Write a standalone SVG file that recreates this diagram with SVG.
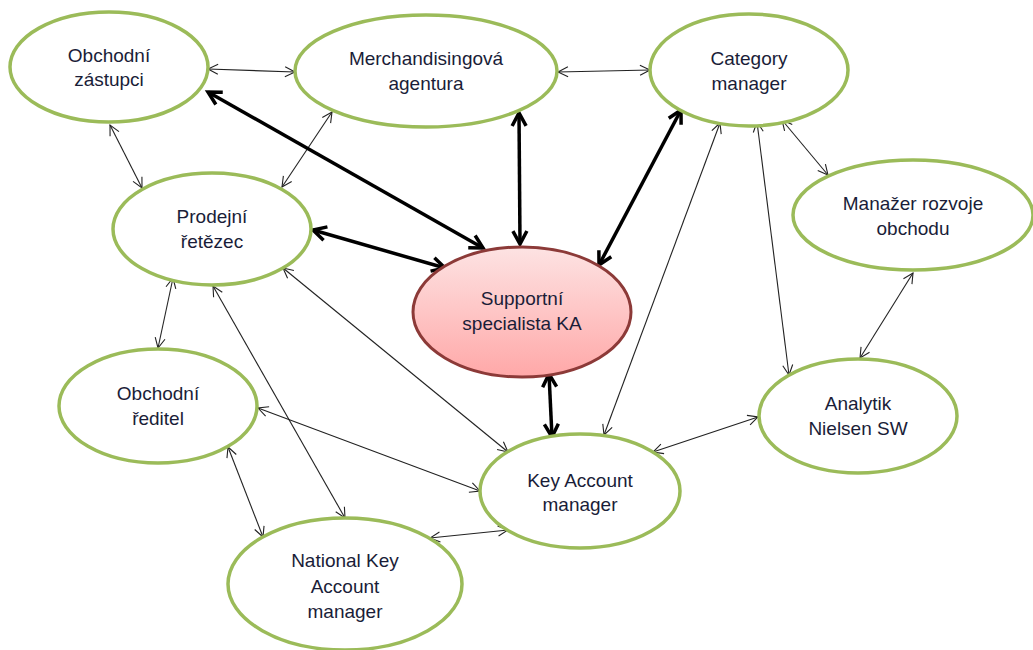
<svg xmlns="http://www.w3.org/2000/svg" width="1033" height="650" viewBox="0 0 1033 650">
<defs>
<style>
.node{fill:#fff;stroke:#9bbb59;stroke-width:3.5}
.sup{fill:url(#pink);stroke:#8c3a38;stroke-width:3}
.t{font-family:"Liberation Sans",Arial,sans-serif;font-size:19px;fill:#1a1d38;text-anchor:middle}
.thin{stroke:#222;stroke-width:1.1;fill:none;marker-start:url(#a);marker-end:url(#a)}
.thick{stroke:#000;stroke-width:3.5;fill:none;marker-start:url(#b);marker-end:url(#b)}
</style>
<linearGradient id="pink" x1="0" y1="0" x2="0" y2="1">
<stop offset="0" stop-color="#fde3e3"/>
<stop offset="1" stop-color="#ffa8a8"/>
</linearGradient>
<marker id="a" markerUnits="userSpaceOnUse" viewBox="-12 -7 14 14" markerWidth="14" markerHeight="14" refX="0" refY="0" orient="auto-start-reverse">
<path d="M-10,-5 L0,0 L-10,5" fill="none" stroke="#222" stroke-width="1.1"/>
</marker>
<marker id="b" markerUnits="userSpaceOnUse" viewBox="-16 -10 20 20" markerWidth="20" markerHeight="20" refX="0" refY="0" orient="auto-start-reverse">
<path d="M-13,-7 L0,0 L-13,7" fill="none" stroke="#000" stroke-width="3.5" stroke-linejoin="miter"/>
</marker>
</defs>
<rect width="1033" height="650" fill="#fff"/>
<g id="connectors">
<line class="thin" x1="208" y1="69" x2="295" y2="72"/>
<line class="thin" x1="558" y1="72" x2="650" y2="70"/>
<line class="thin" x1="110" y1="125" x2="142" y2="188"/>
<line class="thin" x1="332" y1="112" x2="282" y2="187"/>
<line class="thin" x1="782" y1="120" x2="828" y2="175"/>
<line class="thin" x1="913" y1="273" x2="860" y2="358"/>
<line class="thin" x1="757" y1="122" x2="789" y2="375"/>
<line class="thin" x1="720" y1="123" x2="604" y2="435"/>
<line class="thin" x1="283" y1="268" x2="508" y2="452"/>
<line class="thin" x1="173" y1="278" x2="158" y2="348"/>
<line class="thin" x1="213" y1="286" x2="345" y2="518"/>
<line class="thin" x1="258" y1="408" x2="480" y2="491"/>
<line class="thin" x1="228" y1="447" x2="263" y2="537"/>
<line class="thin" x1="430" y1="538" x2="508" y2="530"/>
<line class="thin" x1="653" y1="452" x2="758" y2="417"/>
<line class="thick" x1="208" y1="92" x2="483" y2="248"/>
<line class="thick" x1="519" y1="113" x2="520" y2="244"/>
<line class="thick" x1="681" y1="110" x2="599" y2="265"/>
<line class="thick" x1="313" y1="230" x2="445" y2="268"/>
<line class="thick" x1="549" y1="374" x2="552" y2="437"/>
</g>
<g id="n-zastupci"><ellipse class="node" cx="109" cy="67" rx="99" ry="55"/><text class="t" x="109" y="62">Obchodní</text><text class="t" x="109" y="86">zástupci</text></g>
<g id="n-merch"><ellipse class="node" cx="426" cy="71" rx="131" ry="56"/><text class="t" x="426" y="65">Merchandisingová</text><text class="t" x="426" y="90">agentura</text></g>
<g id="n-category"><ellipse class="node" cx="749" cy="70" rx="99" ry="56"/><text class="t" x="749" y="65">Category</text><text class="t" x="749" y="90">manager</text></g>
<g id="n-manazer"><ellipse class="node" cx="913" cy="215" rx="120" ry="55"/><text class="t" x="913" y="210">Manažer rozvoje</text><text class="t" x="913" y="235">obchodu</text></g>
<g id="n-prodejni"><ellipse class="node" cx="212" cy="229" rx="99" ry="56"/><text class="t" x="212" y="223">Prodejní</text><text class="t" x="212" y="248">řetězec</text></g>
<g id="n-supportni"><ellipse class="sup" cx="522" cy="312" rx="109" ry="65"/><text class="t" x="522" y="305">Supportní</text><text class="t" x="522" y="330">specialista KA</text></g>
<g id="n-reditel"><ellipse class="node" cx="158" cy="406" rx="99" ry="57"/><text class="t" x="158" y="400">Obchodní</text><text class="t" x="158" y="425">ředitel</text></g>
<g id="n-kam"><ellipse class="node" cx="580" cy="491" rx="100" ry="57"/><text class="t" x="580" y="487">Key Account</text><text class="t" x="580" y="511">manager</text></g>
<g id="n-analytik"><ellipse class="node" cx="858" cy="416" rx="99" ry="57"/><text class="t" x="858" y="410">Analytik</text><text class="t" x="858" y="435">Nielsen SW</text></g>
<g id="n-nkam"><ellipse class="node" cx="345" cy="584" rx="117" ry="66"/><text class="t" x="345" y="567">National Key</text><text class="t" x="345" y="593">Account</text><text class="t" x="345" y="618">manager</text></g>
</svg>
